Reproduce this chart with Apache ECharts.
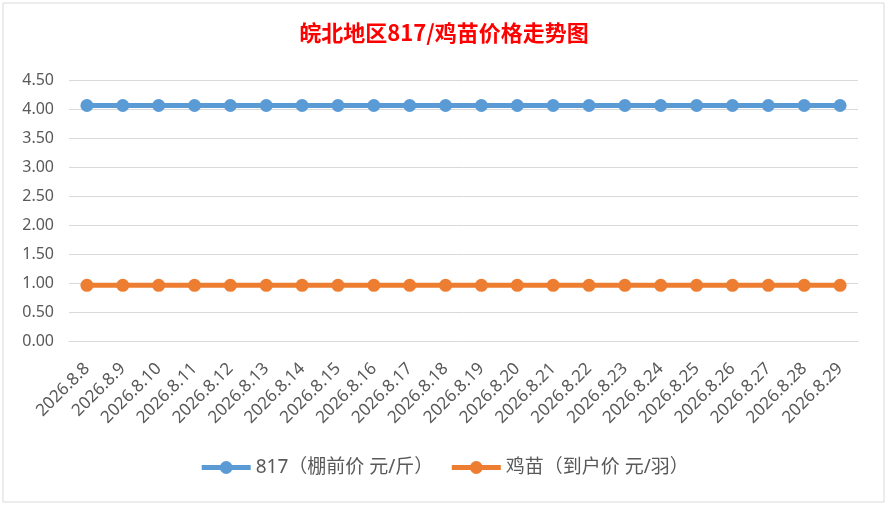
<!DOCTYPE html>
<html>
<head>
<meta charset="utf-8">
<script src="https://cdn.jsdelivr.net/npm/echarts@6/dist/echarts.min.js"></script>
<style>
html,body{margin:0;padding:0;background:#fff;}
#c{width:888px;height:506px;}
</style>
</head>
<body>
<div id="c"></div>
<script>
const categories = ['2026.8.8','2026.8.9','2026.8.10','2026.8.11','2026.8.12','2026.8.13','2026.8.14','2026.8.15','2026.8.16','2026.8.17','2026.8.18','2026.8.19','2026.8.20','2026.8.21','2026.8.22','2026.8.23','2026.8.24','2026.8.25','2026.8.26','2026.8.27','2026.8.28','2026.8.29'];
const price817 = [4.06,4.06,4.06,4.06,4.06,4.06,4.06,4.06,4.06,4.06,4.06,4.06,4.06,4.06,4.06,4.06,4.06,4.06,4.06,4.06,4.06,4.06];
const priceChick = [0.96,0.96,0.96,0.96,0.96,0.96,0.96,0.96,0.96,0.96,0.96,0.96,0.96,0.96,0.96,0.96,0.96,0.96,0.96,0.96,0.96,0.96];
const seriesNames = ['817（棚前价 元/斤）','鸡苗（到户价 元/羽）'];
const titleText = '皖北地区817/鸡苗价格走势图';

const font = '"Noto Sans", "Noto Sans CJK SC", sans-serif';
const chart = echarts.init(document.getElementById('c'));
chart.setOption({
  animation: false,
  backgroundColor: '#fff',
  graphic: [{
    type: 'rect',
    shape: {x: 3, y: 3, width: 881, height: 499},
    style: {fill: 'none', stroke: '#d9d9d9', lineWidth: 1},
    silent: true
  }],
  title: {
    text: titleText,
    left: 'center',
    top: 17,
    textStyle: {color: '#ff0000', fontSize: 22, fontWeight: 'bold', fontFamily: '"Noto Sans CJK SC", sans-serif'}
  },
  legend: {
    bottom: 24,
    left: 'center',
    itemWidth: 49,
    itemHeight: 16,
    itemGap: 16,
    textStyle: {color: '#595959', fontSize: 19, fontFamily: font},
    data: [
      {name: seriesNames[0], lineStyle: {width: 5, color: '#5b9bd5'}, itemStyle: {color: '#5b9bd5'}},
      {name: seriesNames[1], lineStyle: {width: 5, color: '#ed7d31'}, itemStyle: {color: '#ed7d31'}}
    ]
  },
  grid: {left: 69, right: 30, top: 80, bottom: 165, containLabel: false},
  xAxis: {
    type: 'category',
    data: categories,
    boundaryGap: true,
    axisLine: {lineStyle: {color: '#d9d9d9'}},
    axisTick: {show: false},
    axisLabel: {rotate: 45, color: '#595959', fontSize: 17, fontFamily: font, margin: 25, interval: 0}
  },
  yAxis: {
    type: 'value',
    min: 0, max: 4.5, interval: 0.5,
    axisLine: {show: false},
    axisTick: {show: false},
    splitLine: {lineStyle: {color: '#d9d9d9', width: 1}},
    axisLabel: {color: '#595959', fontSize: 16, fontFamily: font, margin: 15, formatter: v => v.toFixed(2)}
  },
  series: [
    {name: seriesNames[0], type: 'line', data: price817, symbol: 'circle', symbolSize: 13,
     lineStyle: {color: '#5b9bd5', width: 5}, itemStyle: {color: '#5b9bd5'}},
    {name: seriesNames[1], type: 'line', data: priceChick, symbol: 'circle', symbolSize: 13,
     lineStyle: {color: '#ed7d31', width: 5}, itemStyle: {color: '#ed7d31'}}
  ]
});
</script>
</body>
</html>
